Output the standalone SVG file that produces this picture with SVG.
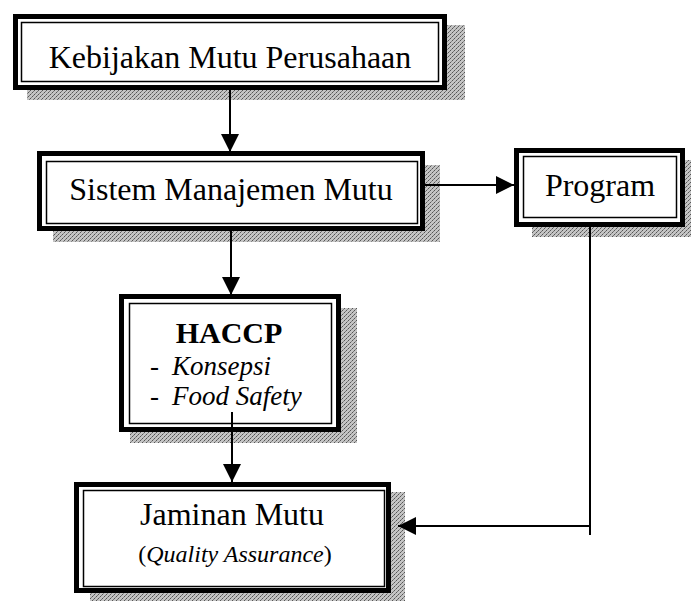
<svg xmlns="http://www.w3.org/2000/svg" width="691" height="603" viewBox="0 0 691 603">
  <style>
    .outer { fill: #ffffff; stroke: #000000; stroke-width: 5; }
    .inner { fill: none; stroke: #000000; stroke-width: 1.5; }
    .shadow { fill: url(#dither); }
    .t { font-family: "Liberation Serif", "Times New Roman", serif; font-size: 32px; fill: #000000; }
    .ti { font-family: "Liberation Serif", "Times New Roman", serif; font-size: 27px; font-style: italic; fill: #000000; }
    .conn { stroke: #000000; stroke-width: 2; fill: none; }
  </style>
  <defs>
    <pattern id="dither" width="4" height="4" patternUnits="userSpaceOnUse">
      <rect width="4" height="4" fill="#c4c4c4"/>
      <rect x="0" y="0" width="1" height="1" fill="#555555"/>
      <rect x="2" y="2" width="1" height="1" fill="#555555"/>
      <rect x="1" y="3" width="1" height="1" fill="#777777"/>
      <rect x="3" y="1" width="1" height="1" fill="#888888"/>
    </pattern>
    <marker id="arrow" viewBox="0 0 18 18" refX="18" refY="9" markerWidth="18" markerHeight="18" markerUnits="userSpaceOnUse" orient="auto">
      <path d="M0,0 L18,9 L0,18 z" fill="#000000"/>
    </marker>
  </defs>
  <rect width="691" height="603" fill="#ffffff"/>

  <g id="node-kebijakan">
    <rect class="shadow" x="27" y="25" width="438" height="75"/>
    <rect class="outer" x="15.5" y="16.5" width="429" height="71"/>
    <rect class="inner" x="21.5" y="22.5" width="417" height="59"/>
    <text class="t" x="230" y="68" text-anchor="middle">Kebijakan Mutu Perusahaan</text>
  </g>

  <g id="node-sistem">
    <rect class="shadow" x="53" y="165" width="387" height="77"/>
    <rect class="outer" x="39.5" y="153.5" width="383" height="75"/>
    <rect class="inner" x="46.5" y="161.5" width="371" height="62"/>
    <text class="t" x="231" y="200" text-anchor="middle">Sistem Manajemen Mutu</text>
  </g>

  <g id="node-program">
    <rect class="shadow" x="532" y="160" width="165" height="77"/>
    <rect class="outer" x="516.5" y="150.5" width="166" height="74"/>
    <rect class="inner" x="523.5" y="156.5" width="153" height="61"/>
    <text class="t" x="600" y="196" text-anchor="middle">Program</text>
  </g>

  <g id="node-haccp">
    <rect class="shadow" x="130" y="308" width="227" height="135"/>
    <rect class="outer" x="121.5" y="296.5" width="217" height="133"/>
    <rect class="inner" x="129.5" y="303.5" width="202" height="120"/>
    <text class="t" x="229" y="343" text-anchor="middle" font-weight="bold" style="font-size:30px">HACCP</text>
    <text class="t" x="150" y="375" style="font-size:27px">-</text>
    <text class="ti" x="172" y="375">Konsepsi</text>
    <text class="t" x="150" y="405" style="font-size:27px">-</text>
    <text class="ti" x="172" y="405">Food Safety</text>
  </g>

  <g id="node-jaminan">
    <rect class="shadow" x="90" y="492" width="315" height="109"/>
    <rect class="outer" x="76.5" y="484.5" width="312" height="106"/>
    <rect class="inner" x="83.5" y="490.5" width="301" height="96"/>
    <text class="t" x="232" y="525" text-anchor="middle">Jaminan Mutu</text>
    <text class="t" x="235" y="562" text-anchor="middle" style="font-size:24px">(<tspan font-style="italic">Quality Assurance</tspan>)</text>
  </g>

  <g id="connectors">
    <path class="conn" d="M230,90 L230,152" marker-end="url(#arrow)"/>
    <path class="conn" d="M425,185 L514,185" marker-end="url(#arrow)"/>
    <path class="conn" d="M231,231 L231,295" marker-end="url(#arrow)"/>
    <path class="conn" d="M232,412 L232,482" marker-end="url(#arrow)"/>
    <path class="conn" d="M590,226 L590,535"/>
    <path class="conn" d="M590,526 L398,526" marker-end="url(#arrow)"/>
  </g>
</svg>
